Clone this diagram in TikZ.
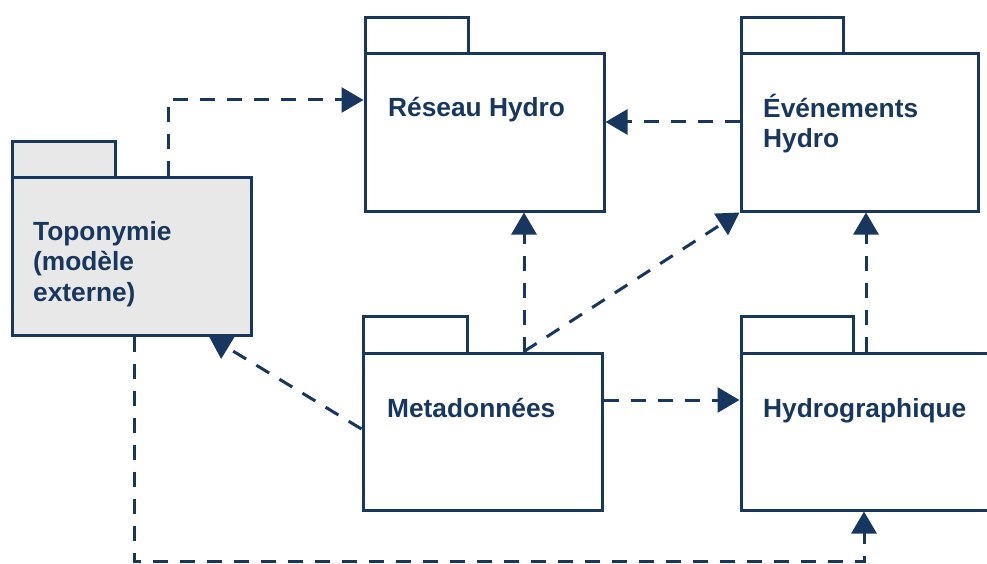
\documentclass[tikz,border=0pt]{standalone}
\usepackage{fontspec}
\setmainfont{Liberation Sans}
\usetikzlibrary{arrows.meta}
\definecolor{navy}{HTML}{17375E}
\definecolor{pkggray}{HTML}{E8E8E8}
\begin{document}
\begin{tikzpicture}[x=1pt,y=-1pt,
  pkgbody/.style={draw=navy, line width=3pt, rectangle, inner sep=0pt, fill=white},
  pkgtab/.style={draw=navy, line width=3pt, rectangle, inner sep=0pt, outer sep=0pt, fill=white},
  lbl/.style={anchor=base west, inner sep=0pt, text=navy, font=\fontsize{26.3}{30.5}\selectfont\bfseries},
  dep/.style={draw=navy, line width=3pt, dash pattern=on 15pt off 12pt, -{Triangle[length=22pt,width=25pt]}}]
\clip (0,0) rectangle (987,564);
\fill[white] (0,0) rectangle (987,564);
% guide coordinates
\coordinate (gx1) at (168,0);
\coordinate (gy1) at (0,100);
\coordinate (gy2) at (0,122);
\coordinate (gx3) at (524,0);
\coordinate (gx5) at (209,0);
\coordinate (gy5) at (0,429);
\coordinate (gy6) at (0,400);
\coordinate (gx7) at (866,0);
\coordinate (gx8) at (134,0);
\coordinate (gy8) at (0,561);
\coordinate (gx9) at (864,0);
% tabs
\node[pkgtab, fill=pkggray, minimum width=103pt, minimum height=36pt] (topotab) at (63.5,160) {};
\node[pkgtab, minimum width=103pt, minimum height=36pt] (reseautab) at (416.5,36) {};
\node[pkgtab, minimum width=102pt, minimum height=36pt] (evttab) at (792,36) {};
\node[pkgtab, minimum width=104pt, minimum height=37pt] (metatab) at (415,334.5) {};
\node[pkgtab, minimum width=112pt, minimum height=37pt] (hydrotab) at (797,334.5) {};
% bodies
\node[pkgbody, fill=pkggray, minimum width=239pt, minimum height=157pt] (topo) at (131.5,256.5) {};
\node[pkgbody, minimum width=239pt, minimum height=157pt] (reseau) at (484.5,132.5) {};
\node[pkgbody, minimum width=237pt, minimum height=157pt] (evt) at (859.5,132.5) {};
\node[pkgbody, minimum width=239pt, minimum height=157pt] (meta) at (482.5,431.5) {};
\node[pkgbody, minimum width=300pt, minimum height=157pt] (hydro) at (891,431.5) {};
% labels
\node[lbl] (t1) at (33,240) {Toponymie};
\node[lbl] (t2) at (33,270) {(modèle};
\node[lbl] (t3) at (33,301) {externe)};
\node[lbl] (r1) at (388,117) {Réseau Hydro};
\node[lbl] (e1) at (763,118) {Événements};
\node[lbl] (e2) at (763,148) {Hydro};
\node[lbl] (m1) at (387,417) {Metadonnées};
\node[lbl] (h1) at (763,417) {Hydrographique};
% dependencies
\draw[dep] (topo.north -| gx1) |- (reseau.west |- gy1);
\draw[dep] (evt.west |- gy2) -- (reseau.east |- gy2);
\draw[dep] (meta.north -| gx3) -- (reseau.south -| gx3);
\draw[dep] (meta.north -| gx3) -- (evt.south west);
\draw[dep] (meta.west |- gy5) -- (topo.south -| gx5);
\draw[dep] (meta.east |- gy6) -- (hydro.west |- gy6);
\draw[dep] (hydro.north -| gx7) -- (evt.south -| gx7);
\draw[dep] (topo.south -| gx8) -- (gx8 |- gy8) -| (hydro.south -| gx9);
\end{tikzpicture}
\end{document}
